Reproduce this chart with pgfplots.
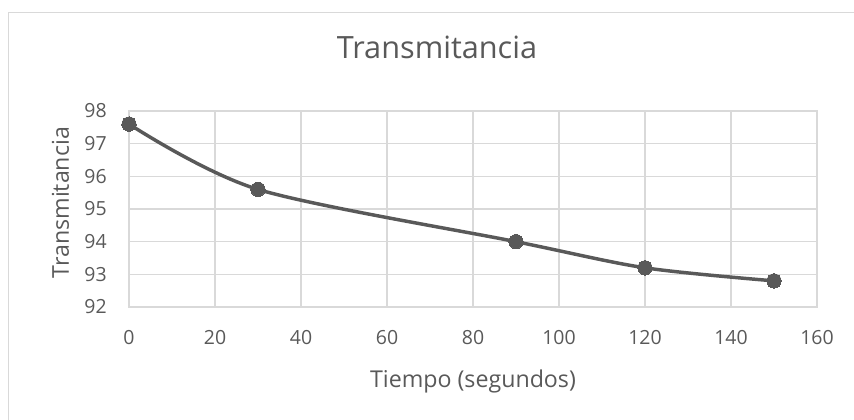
\documentclass[border=0pt]{standalone}
\usepackage{pgfplots}
\pgfplotsset{compat=1.18}
\usepackage{fontspec}
\setmainfont{Open Sans}
\definecolor{txt}{HTML}{595959}
\definecolor{grd}{HTML}{D9D9D9}
\definecolor{ln}{HTML}{595959}
\begin{document}
\begin{tikzpicture}
\useasboundingbox (0,0) rectangle (640.5pt,314.25pt);
\draw[grd, line width=0.75pt] (6pt,305.25pt) rectangle (660pt,-20pt);
\begin{axis}[
  at={(96.75pt,84pt)}, anchor=south west,
  scale only axis, width=516pt, height=147pt,
  xmin=0, xmax=160, ymin=92, ymax=98,
  xtick={0,20,...,160}, ytick={92,93,...,98},
  grid=major,
  major grid style={grd, line width=1pt},
  axis line style={grd, line width=1pt},
  major tick length=0pt,
  /pgf/number format/assume math mode=true,
  ticklabel style={font=\fontsize{14.6}{17}\selectfont, text=txt, inner sep=0pt},
  xticklabel style={anchor=center, yshift=-23.25pt},
  yticklabel style={anchor=east, xshift=-16.5pt},
  title={Transmitancia},
  title style={font=\fontsize{23}{28}\selectfont, text=txt, at={(axis description cs:0.4477,1.286)}, anchor=center, inner sep=0pt},
  xlabel={Tiempo (segundos)},
  xlabel style={font=\fontsize{17.4}{21}\selectfont, text=txt, at={(axis description cs:0.5,-0.378)}, anchor=center, inner sep=0pt},
  ylabel={Transmitancia},
  ylabel style={font=\fontsize{17.4}{21}\selectfont, text=txt, at={(axis description cs:-0.0996,0.532)}, anchor=center, inner sep=0pt, rotate=0},
  clip=false,
]
\addplot[ln, line width=2.6pt, smooth, mark=*, mark size=5.4pt, mark options={fill=ln, draw=ln, line width=0pt}]
  coordinates {(0,97.6) (30,95.6) (90,94.0) (120,93.2) (150,92.8)};
\end{axis}
\end{tikzpicture}
\end{document}
